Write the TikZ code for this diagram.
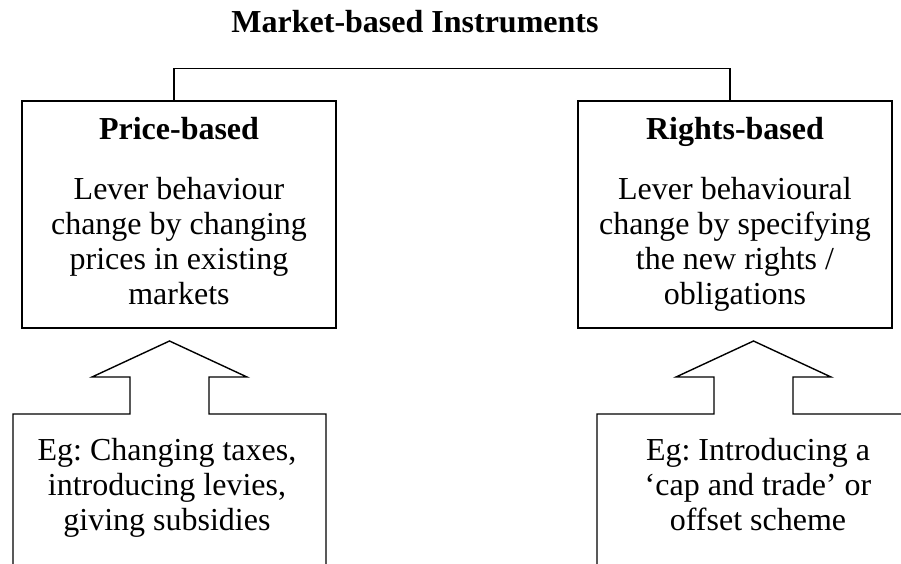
\documentclass[tikz,border=0pt]{standalone}
\usepackage{fontspec}
\setmainfont{Liberation Serif}
\usetikzlibrary{positioning}
\frenchspacing

\begin{document}
\begin{tikzpicture}[x=1pt, y=-1pt,
    every node/.style={font=\fontsize{32}{35}\selectfont, align=center},
    box/.style={draw, line width=1.4pt, minimum width=314pt, minimum height=227pt, inner sep=0pt},
    outline/.style={line width=1.4pt}]
        \useasboundingbox (0,0) rectangle (901,563);
        \clip (0,0) rectangle (901,563);

        \node[font=\fontsize{32}{35}\selectfont\bfseries, anchor=base] (title) at (415,32) {Market-based Instruments};

        \node[box] (price) at (179,214.5) {\textbf{Price-based}\strut\\[25pt] Lever behaviour\\ change by changing\\ prices in existing\\ markets\strut};
        \node[box] (rights) at (735,214.5) {\textbf{Rights-based}\strut\\[25pt] Lever behavioural\\ change by specifying\\ the new rights /\\ obligations\strut};

        \draw[outline] ([xshift=-5pt]price.north) -- ++(0,-32) -| ([xshift=-5pt]rights.north);

        % block arrows opening into the example boxes
        \foreach \cx in {169.5, 753.5}
          \draw[outline, shift={(\cx,0)}] (-156.5,600) |- (-39.5,414) |- (-77.5,377) -- (0,341) -- (77.5,377) -| (39.5,414) -| (156.5,600);

        \node (taxes) at (167,490) {Eg: Changing taxes,\\ introducing levies,\\ giving subsidies\strut};
        \node (trade) at (758,490) {Eg: Introducing a\\ `cap and trade' or\\ offset scheme\strut};
\end{tikzpicture}
\end{document}
